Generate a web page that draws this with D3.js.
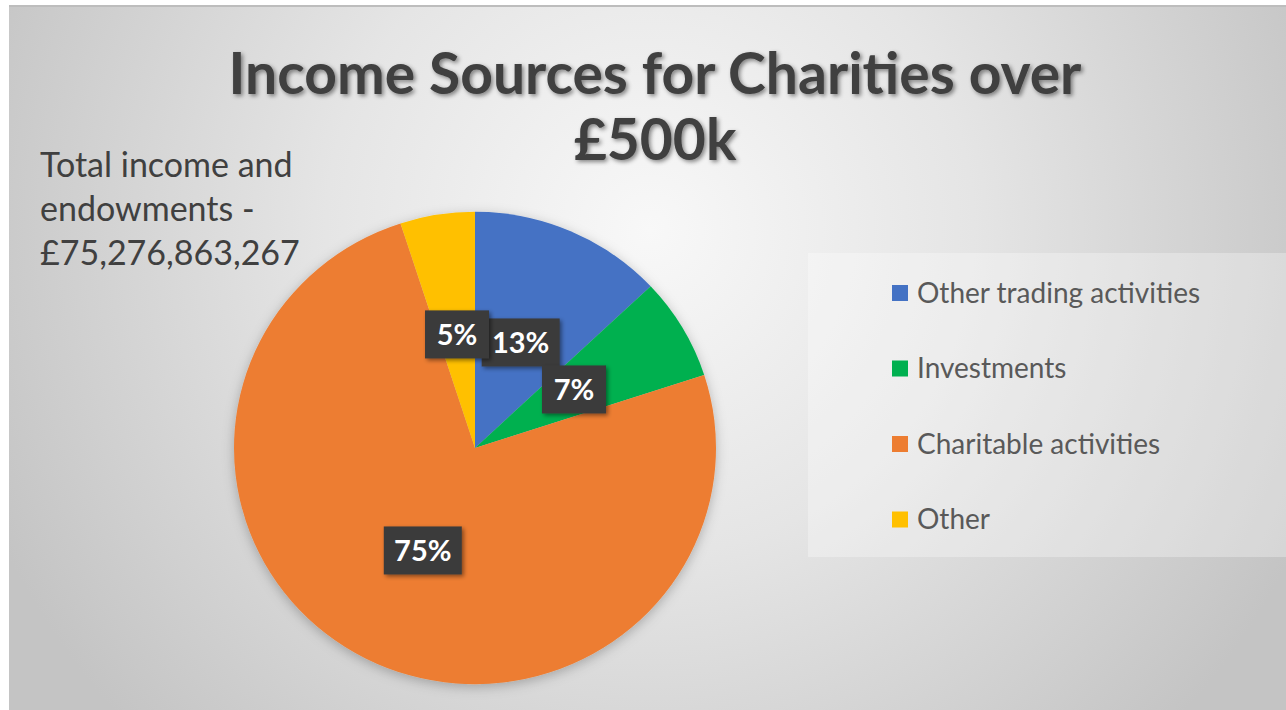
<!DOCTYPE html>
<html>
  <head>
    <meta charset="UTF-8" />
    <script src="https://d3js.org/d3.v7.min.js"></script>
    <title>Income Sources for Charities over £500k</title>
    <style>
      body { margin: 0; background: #ffffff; }
      text { font-family: Lato, "Open Sans", sans-serif; }
    </style>
  </head>
  <body>
    <div id="chart"></div>
    <script>
      // data
      var categories = ["Other trading activities", "Investments", "Charitable activities", "Other"];
      var shares = [13, 7, 75, 5];
      var colours = ["#4472C4", "#00B050", "#ED7D31", "#FFC000"];
      var titleLines = ["Income Sources for Charities over", "£500k"];
      var noteLines = ["Total income and", "endowments -", "£75,276,863,267"];

      var width = 1286, height = 710;

      var svg = d3.select("#chart")
        .append("svg")
        .attr("width", width)
        .attr("height", height);

      var defs = svg.append("defs");

      // grey radial background
      var bg = defs.append("radialGradient")
        .attr("id", "bg")
        .attr("gradientUnits", "userSpaceOnUse")
        .attr("cx", 650).attr("cy", 230).attr("r", 720);
      bg.append("stop").attr("offset", "0%").attr("stop-color", "#f8f8f8");
      bg.append("stop").attr("offset", "45%").attr("stop-color", "#e5e5e5");
      bg.append("stop").attr("offset", "100%").attr("stop-color", "#c4c4c4");

      var shadow = defs.append("filter").attr("id", "shadow")
        .attr("x", "-20%").attr("y", "-20%").attr("width", "150%").attr("height", "150%");
      shadow.append("feDropShadow")
        .attr("dx", 2).attr("dy", 2).attr("stdDeviation", 2)
        .attr("flood-color", "#000").attr("flood-opacity", 0.45);

      var pieShadow = defs.append("filter").attr("id", "pieShadow")
        .attr("x", "-20%").attr("y", "-20%").attr("width", "140%").attr("height", "140%");
      pieShadow.append("feDropShadow")
        .attr("dx", 0).attr("dy", 3).attr("stdDeviation", 6)
        .attr("flood-color", "#000").attr("flood-opacity", 0.25);

      svg.append("rect")
        .attr("x", 9).attr("y", 5)
        .attr("width", width - 9).attr("height", height - 5)
        .attr("fill", "url(#bg)");

      svg.append("line")
        .attr("x1", 9).attr("x2", width)
        .attr("y1", 6).attr("y2", 6)
        .attr("stroke", "#bdbdbd").attr("stroke-width", 2);

      // title
      svg.append("g")
        .selectAll("text")
        .data(titleLines)
        .enter()
        .append("text")
        .attr("x", 655)
        .attr("y", function(d, i) { return 94 + i * 66; })
        .attr("text-anchor", "middle")
        .style("font-size", "57px")
        .style("font-weight", "bold")
        .style("fill", "#404040")
        .attr("filter", "url(#shadow)")
        .text(function(d) { return d; });

      // total note
      svg.append("g")
        .selectAll("text")
        .data(noteLines)
        .enter()
        .append("text")
        .attr("x", 40)
        .attr("y", function(d, i) { return 177 + i * 44; })
        .style("font-size", "34px")
        .style("fill", "#404040")
        .text(function(d) { return d; });

      // pie
      var cx = 475, cy = 448, r = 241;

      var pie = d3.pie().sort(null).value(function(d) { return d; });
      var arcs = pie(shares);

      var arc = d3.arc().innerRadius(0).outerRadius(r);
      var labelArc = d3.arc().innerRadius(115).outerRadius(115);

      var pieG = svg.append("g")
        .attr("transform", "translate(" + cx + "," + cy + ") scale(1,0.98)")
        .attr("filter", "url(#pieShadow)");

      pieG.selectAll("path")
        .data(arcs)
        .enter()
        .append("path")
        .attr("d", arc)
        .attr("fill", function(d, i) { return colours[i]; });

      // data labels
      var labels = svg.append("g")
        .attr("transform", "translate(" + cx + "," + cy + ")")
        .selectAll("g")
        .data(arcs)
        .enter()
        .append("g")
        .attr("transform", function(d) {
          var c = labelArc.centroid(d);
          return "translate(" + c[0] + "," + c[1] + ")";
        });

      labels.append("rect")
        .attr("x", function(d) { return d.value >= 10 ? -39 : -32; })
        .attr("y", -24)
        .attr("width", function(d) { return d.value >= 10 ? 78 : 64; })
        .attr("height", 48)
        .attr("fill", "#3a3a3a")
        .attr("filter", "url(#shadow)");

      labels.append("text")
        .attr("text-anchor", "middle")
        .attr("dy", "0.36em")
        .style("font-size", "29px")
        .style("font-weight", "bold")
        .style("fill", "#ffffff")
        .text(function(d) { return d.value + "%"; });

      // legend
      svg.append("rect")
        .attr("x", 808).attr("y", 253)
        .attr("width", width - 808).attr("height", 304)
        .attr("fill", "#ffffff").attr("fill-opacity", 0.3);

      var legend = svg.append("g")
        .selectAll("g")
        .data(categories)
        .enter()
        .append("g")
        .attr("transform", function(d, i) {
          return "translate(892," + (293 + i * 75.5) + ")";
        });

      legend.append("rect")
        .attr("x", 0).attr("y", -8)
        .attr("width", 16).attr("height", 16)
        .attr("fill", function(d, i) { return colours[i]; });

      legend.append("text")
        .attr("x", 25)
        .attr("dy", "0.35em")
        .style("font-size", "28px")
        .style("fill", "#595959")
        .text(function(d) { return d; });
    </script>
  </body>
</html>
